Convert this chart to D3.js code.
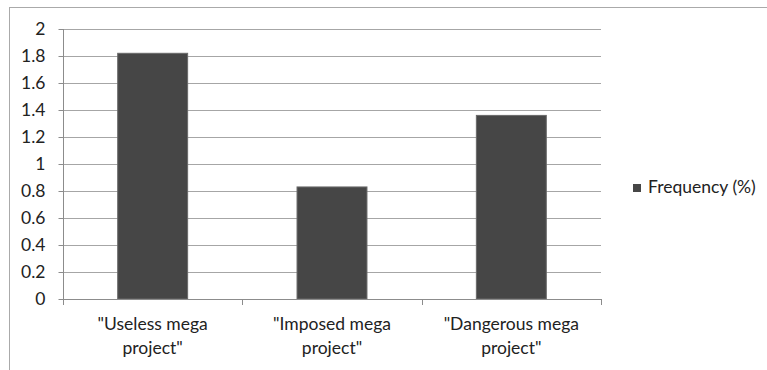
<!DOCTYPE html>
<html><head><meta charset="utf-8">
<script src="https://cdn.jsdelivr.net/npm/d3@7"></script>
<style>body{margin:0;background:#fff}svg{display:block}text{font-family:Lato,"Open Sans",sans-serif;fill:#222}</style>
</head><body><svg id="c" width="767" height="370"></svg>
<script>
const categories = ['"Useless mega project"', '"Imposed mega project"', '"Dangerous mega project"'];
const categoryLines = [['"Useless mega', 'project"'], ['"Imposed mega', 'project"'], ['"Dangerous mega', 'project"']];
const values = [1.82, 0.83, 1.36];
const yTicks = [0, 0.2, 0.4, 0.6, 0.8, 1, 1.2, 1.4, 1.6, 1.8, 2];
const seriesName = "Frequency (%)";

(function () {
const svg = d3.select("#c");
const fs = 17.5;
// outer frame
svg.append("rect").attr("x", 9.5).attr("y", 7.5).attr("width", 800).attr("height", 400)
  .attr("fill", "none").attr("stroke", "#aaa").attr("stroke-width", 1);

const pLeft = 63, pRight = 601, pTop = 29, pBottom = 299;
const x = d3.scaleBand().domain(categories).range([pLeft, pRight]).paddingInner(0.61).paddingOuter(0.305);
const y = d3.scaleLinear().domain([0, 2]).range([pBottom, pTop]);

// gridlines
svg.append("g").selectAll("line").data(yTicks.filter(d => d > 0)).join("line")
  .attr("x1", pLeft).attr("x2", pRight)
  .attr("y1", d => Math.round(y(d)) + 0.5).attr("y2", d => Math.round(y(d)) + 0.5)
  .attr("stroke", "#a6a6a6");

// bars
svg.append("g").selectAll("rect").data(values).join("rect")
  .attr("x", (d, i) => x(categories[i])).attr("width", x.bandwidth())
  .attr("y", d => y(d)).attr("height", d => pBottom - y(d))
  .attr("fill", "#464646").attr("stroke", "#6a6a6a").attr("stroke-width", 1);

// y axis
const yAxis = d3.axisLeft(y).tickValues(yTicks).tickSize(5).tickPadding(13).tickFormat(d3.format("~g"));
const gy = svg.append("g").attr("transform", `translate(${pLeft + 0.5},0)`).call(yAxis);
gy.select(".domain").attr("stroke", "#8c8c8c").attr("d", `M0,${pTop}V${pBottom}`);
gy.selectAll(".tick line").attr("stroke", "#8c8c8c");
gy.selectAll(".tick text").attr("font-size", fs).attr("font-family", "Lato").attr("fill", "#222");

// x axis with boundary ticks
const bounds = d3.range(categories.length + 1).map(i => pLeft + i * (pRight - pLeft) / categories.length);
const gx = svg.append("g");
gx.append("line").attr("x1", pLeft).attr("x2", pRight).attr("y1", pBottom + 0.5).attr("y2", pBottom + 0.5).attr("stroke", "#8c8c8c");
gx.selectAll("line.t").data(bounds).join("line").attr("class", "t")
  .attr("x1", d => Math.round(d) + 0.5).attr("x2", d => Math.round(d) + 0.5)
  .attr("y1", pBottom).attr("y2", pBottom + 6).attr("stroke", "#8c8c8c");
gx.selectAll("text").data(categories).join("text")
  .attr("x", d => x(d) + x.bandwidth() / 2).attr("y", pBottom + 31)
  .attr("text-anchor", "middle").attr("font-size", fs)
  .selectAll("tspan").data((d, i) => categoryLines[i]).join("tspan")
  .attr("x", function () { return d3.select(this.parentNode).attr("x"); })
  .attr("dy", (d, j) => j === 0 ? 0 : 24).text(d => d);

// legend
const lg = svg.append("g").attr("transform", "translate(633,184)");
lg.append("rect").attr("width", 8).attr("height", 8).attr("fill", "#464646");
lg.append("text").attr("x", 15).attr("y", 8.5).attr("font-size", fs).text(seriesName);
})();
</script></body></html>
